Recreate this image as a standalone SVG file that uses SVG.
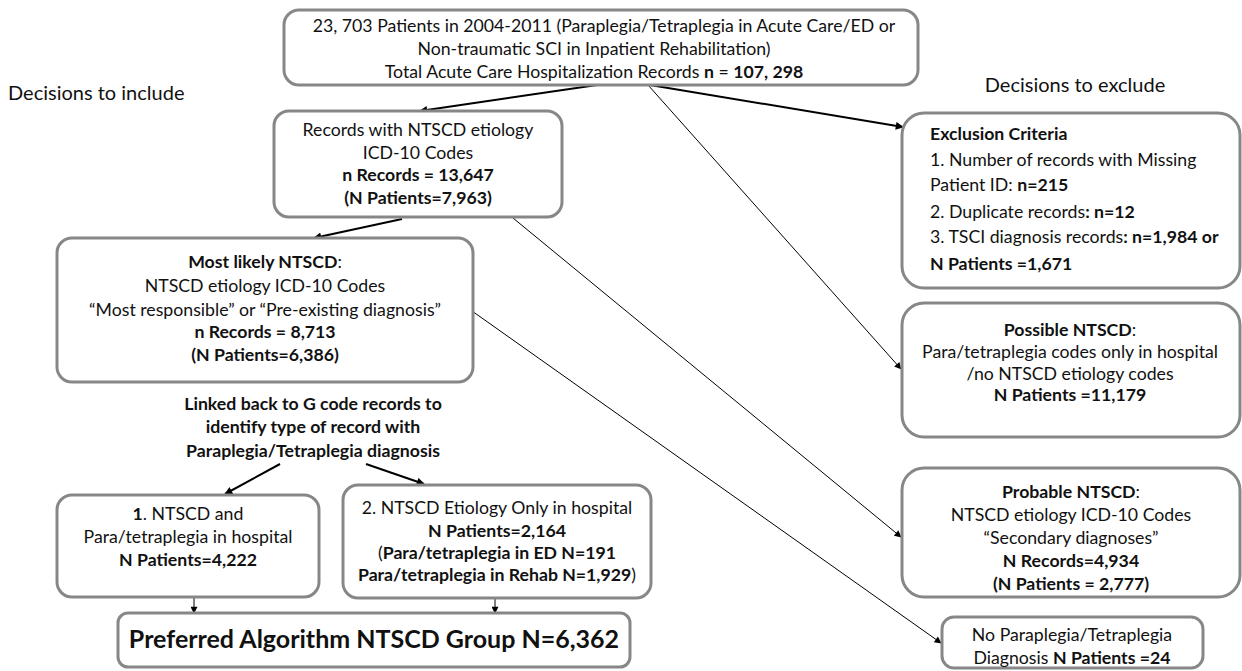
<svg xmlns="http://www.w3.org/2000/svg" width="1242" height="671" viewBox="0 0 1242 671">
<style>
  .box { fill: #ffffff; stroke: #878787; stroke-width: 3; }
  text { font-family: Lato, "Liberation Sans", sans-serif; font-size: 17.7px; fill: #111111; }
  .c { text-anchor: middle; }
  .b { font-weight: bold; }
  .hdr { font-size: 20px; }
  .big { font-size: 25px; font-weight: bold; }
  .thick { stroke: #000; stroke-width: 2; fill: none; }
  .thin { stroke: #000; stroke-width: 1; fill: none; }
</style>
<defs>
  <marker id="ah" viewBox="0 0 10 10" refX="9" refY="5" markerWidth="10" markerHeight="8" markerUnits="userSpaceOnUse" orient="auto">
    <path d="M0,0 L10,5 L0,10 z" fill="#000"/>
  </marker>
  <marker id="ahs" viewBox="0 0 10 10" refX="9" refY="5" markerWidth="9" markerHeight="7" markerUnits="userSpaceOnUse" orient="auto">
    <path d="M0,0 L10,5 L0,10 z" fill="#000"/>
  </marker>
</defs>

<text x="8" y="100" class="hdr">Decisions to include</text>
<text x="1075" y="92" class="hdr c">Decisions to exclude</text>

<g id="connectors">
  <line class="thick" x1="597" y1="85" x2="420" y2="111" marker-end="url(#ah)"/>
  <line class="thick" x1="650" y1="85" x2="903" y2="127" marker-end="url(#ah)"/>
  <line class="thin" x1="648" y1="85" x2="901" y2="369" marker-end="url(#ahs)"/>
  <line class="thin" x1="513" y1="218" x2="901" y2="537" marker-end="url(#ahs)"/>
  <line class="thin" x1="472" y1="311" x2="941" y2="643" marker-end="url(#ahs)"/>
  <line class="thick" x1="402" y1="219" x2="314" y2="238" marker-end="url(#ah)"/>
  <line class="thick" x1="280" y1="464" x2="225" y2="494" marker-end="url(#ah)"/>
  <line class="thick" x1="366" y1="464" x2="424" y2="484" marker-end="url(#ah)"/>
  <line class="thin" x1="194" y1="597" x2="194" y2="613" marker-end="url(#ahs)"/>
  <line class="thin" x1="495" y1="598" x2="495" y2="613" marker-end="url(#ahs)"/>
</g>

<g id="top">
  <rect class="box" x="284" y="10" width="634" height="75" rx="15"/>
  <text x="604" y="32" class="c">23, 703 Patients in 2004-2011 (Paraplegia/Tetraplegia in Acute Care/ED or</text>
  <text x="594" y="55" class="c">Non-traumatic SCI in Inpatient Rehabilitation)</text>
  <text x="594" y="78" class="c">Total Acute Care Hospitalization Records <tspan class="b">n</tspan> = <tspan class="b">107, 298</tspan></text>
</g>

<g id="records">
  <rect class="box" x="274" y="111" width="288" height="106" rx="15"/>
  <text x="418" y="136" class="c">Records with NTSCD etiology</text>
  <text x="418" y="159" class="c">ICD-10 Codes</text>
  <text x="418" y="181" class="c b">n Records = 13,647</text>
  <text x="418" y="204" class="c b">(N Patients=7,963)</text>
</g>

<g id="most-likely">
  <rect class="box" x="57" y="238" width="416" height="144" rx="15"/>
  <text x="265" y="268" class="c"><tspan class="b">Most likely NTSCD</tspan>:</text>
  <text x="265" y="292" class="c">NTSCD etiology  ICD-10 Codes</text>
  <text x="265" y="316" class="c">“Most responsible” or “Pre-existing diagnosis”</text>
  <text x="265" y="338" class="c b">n Records = 8,713</text>
  <text x="265" y="361" class="c b">(N Patients=6,386)</text>
</g>

<g id="linked">
  <text x="313" y="410" class="c b">Linked back to G code records to</text>
  <text x="313" y="433" class="c b">identify type of record with</text>
  <text x="313" y="457" class="c b">Paraplegia/Tetraplegia diagnosis</text>
</g>

<g id="group1">
  <rect class="box" x="57" y="495" width="262" height="102" rx="15"/>
  <text x="188" y="520" class="c"><tspan class="b">1</tspan>. NTSCD and</text>
  <text x="188" y="543" class="c">Para/tetraplegia in hospital</text>
  <text x="188" y="566" class="c b">N Patients=4,222</text>
</g>

<g id="group2">
  <rect class="box" x="343" y="485" width="308" height="113" rx="15"/>
  <text x="497" y="514" class="c">2. NTSCD Etiology Only in hospital</text>
  <text x="497" y="537" class="c b">N Patients=2,164</text>
  <text x="497" y="559" class="c">(<tspan class="b">Para/tetraplegia in ED N=191</tspan></text>
  <text x="497" y="581" class="c"><tspan class="b">Para/tetraplegia in Rehab N=1,929</tspan>)</text>
</g>

<g id="preferred">
  <rect class="box" x="118" y="613" width="512" height="54" rx="10"/>
  <text x="374" y="648" class="c big">Preferred Algorithm NTSCD Group N=6,362</text>
</g>

<g id="exclusion">
  <rect class="box" x="902" y="113" width="338" height="175" rx="22"/>
  <text x="930" y="140" class="b">Exclusion Criteria</text>
  <text x="930" y="166">1. Number of records with Missing</text>
  <text x="930" y="191">Patient ID: <tspan class="b">n=215</tspan></text>
  <text x="930" y="218">2. Duplicate records<tspan class="b">: n=12</tspan></text>
  <text x="930" y="243">3. TSCI diagnosis records<tspan class="b">: n=1,984 or</tspan></text>
  <text x="930" y="270" class="b">N Patients =1,671</text>
</g>

<g id="possible">
  <rect class="box" x="902" y="303" width="338" height="134" rx="22"/>
  <text x="1070" y="336" class="c"><tspan class="b">Possible NTSCD</tspan>:</text>
  <text x="1070" y="358" class="c">Para/tetraplegia codes only in hospital</text>
  <text x="1070" y="380" class="c">/no NTSCD etiology codes</text>
  <text x="1070" y="401" class="c b">N Patients =11,179</text>
</g>

<g id="probable">
  <rect class="box" x="902" y="468" width="338" height="129" rx="22"/>
  <text x="1071" y="498" class="c"><tspan class="b">Probable NTSCD</tspan>:</text>
  <text x="1071" y="521" class="c">NTSCD etiology  ICD-10 Codes</text>
  <text x="1071" y="544" class="c">“Secondary diagnoses”</text>
  <text x="1071" y="567" class="c b">N Records=4,934</text>
  <text x="1071" y="590" class="c b">(N Patients = 2,777)</text>
</g>

<g id="no-para">
  <rect class="box" x="942" y="617" width="261" height="51" rx="12"/>
  <text x="1072" y="641" class="c">No Paraplegia/Tetraplegia</text>
  <text x="1072" y="664" class="c">Diagnosis <tspan class="b">N Patients =24</tspan></text>
</g>
</svg>
